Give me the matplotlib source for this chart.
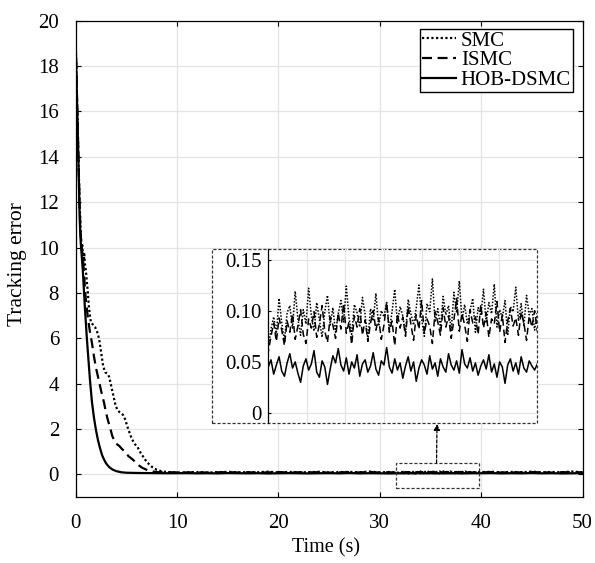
import numpy as np
import matplotlib
matplotlib.use("Agg")
import matplotlib.pyplot as plt
from matplotlib.patches import Rectangle

plt.rcParams['font.family'] = ['Liberation Serif', 'DejaVu Serif']
plt.rcParams['mathtext.fontset'] = 'stix'

# ---------------- data ----------------
series_names = ["SMC", "ISMC", "HOB-DSMC"]

# transient parts (time, value)
t_smc_tr = [0, 0.1, 0.2, 0.3, 0.4, 0.5, 0.55, 0.6, 0.65, 0.7, 0.75, 0.8, 0.85, 0.9, 1.0, 1.1, 1.2, 1.3,
            1.4, 1.5, 1.7, 1.9, 2.1, 2.3, 2.5, 2.7, 2.9, 3.1, 3.3, 3.5, 3.7, 3.9, 4.1, 4.3, 4.5,
            4.7, 4.9, 5.1, 5.3, 5.5, 5.8, 6.1, 6.4, 6.7, 7.0, 7.3, 7.6, 8.0, 8.5, 9.0, 9.5, 10.0]
y_smc_tr = [19.0, 17.2, 15.3, 13.4, 11.8, 10.6, 10.3, 9.9, 10.1, 9.6, 9.8, 9.4, 9.7, 9.3, 9.0, 8.5, 8.0, 7.4,
            7.0, 6.7, 6.6, 6.5, 6.3, 6.0, 5.4, 4.8, 4.5, 4.45, 4.3, 3.9, 3.5, 3.1, 2.85, 2.75, 2.7,
            2.6, 2.4, 2.1, 1.85, 1.6, 1.35, 1.2, 0.95, 0.75, 0.55, 0.42, 0.3, 0.2, 0.13, 0.1, 0.09, 0.08]

t_ismc_tr = [0, 0.1, 0.2, 0.3, 0.4, 0.5, 0.6, 0.7, 0.8, 0.9, 1.0, 1.2, 1.4, 1.6, 1.8, 2.0, 2.2, 2.4,
             2.6, 2.8, 3.0, 3.2, 3.4, 3.6, 3.8, 4.0, 4.3, 4.6, 4.9, 5.2, 5.5, 5.8, 6.2, 6.6, 7.0,
             7.5, 8.0, 9.0, 9.5, 10.0]
y_ismc_tr = [19.0, 17.1, 15.2, 13.3, 11.6, 10.5, 10.0, 9.6, 9.0, 8.3, 7.7, 6.9, 6.3, 5.8, 5.2, 4.7, 4.3, 3.9,
             3.5, 3.15, 2.7, 2.35, 2.05, 1.7, 1.5, 1.35, 1.25, 1.1, 1.0, 0.8, 0.7, 0.58, 0.4, 0.28, 0.2,
             0.13, 0.1, 0.09, 0.09, 0.085]

t_hob_tr = [0, 0.1, 0.2, 0.3, 0.4, 0.5, 0.6, 0.7, 0.8, 0.9, 1.0, 1.1, 1.2, 1.3, 1.4, 1.5, 1.6, 1.8,
            2.0, 2.2, 2.4, 2.6, 2.8, 3.0, 3.3, 3.6, 4.0, 4.5, 5.0, 6.0, 7.0, 8.0, 9.0, 10.0]
y_hob_tr = [19.0, 17.0, 15.0, 13.0, 11.2, 10.2, 9.6, 9.0, 8.2, 7.4, 6.7, 6.0, 5.4, 4.8, 4.2, 3.7, 3.2, 2.5,
            1.95, 1.5, 1.15, 0.85, 0.65, 0.48, 0.32, 0.22, 0.14, 0.09, 0.07, 0.06, 0.055, 0.05, 0.047, 0.05]

# steady-state, coarse (t = 11..31 and 40..50)
t_coarse_a = np.arange(11, 32, 1.0)
t_coarse_b = np.arange(40, 51, 1.0)
smc_coarse_a = [0.088, 0.101, 0.079, 0.095, 0.110, 0.086, 0.098, 0.092, 0.117, 0.083, 0.104,
                0.096, 0.089, 0.112, 0.081, 0.099, 0.107, 0.093, 0.121, 0.087, 0.102]
smc_coarse_b = [0.097, 0.114, 0.085, 0.105, 0.092, 0.119, 0.090, 0.101, 0.096, 0.123, 0.088]
ismc_coarse_a = [0.084, 0.092, 0.075, 0.089, 0.098, 0.081, 0.093, 0.070, 0.087, 0.101, 0.079,
                 0.090, 0.085, 0.096, 0.073, 0.088, 0.094, 0.082, 0.104, 0.077, 0.091]
ismc_coarse_b = [0.086, 0.099, 0.078, 0.093, 0.083, 0.097, 0.089, 0.076, 0.095, 0.087, 0.092]
hob_coarse_a = [0.052, 0.044, 0.049, 0.041, 0.055, 0.047, 0.043, 0.050, 0.038, 0.046, 0.053,
                0.045, 0.040, 0.048, 0.051, 0.044, 0.057, 0.042, 0.049, 0.046, 0.039]
hob_coarse_b = [0.047, 0.053, 0.041, 0.049, 0.044, 0.056, 0.043, 0.050, 0.038, 0.046, 0.052]

# steady-state, dense (zoomed window 32..39 s)
t_dense = 32 + np.arange(101) * 0.07
smc_dense = [0.065, 0.082, 0.094, 0.078, 0.112, 0.088, 0.071, 0.098, 0.105, 0.083,
             0.119, 0.092, 0.076, 0.101, 0.087, 0.122, 0.095, 0.080, 0.108, 0.091,
             0.074, 0.099, 0.115, 0.086, 0.103, 0.079, 0.097, 0.110, 0.089, 0.124,
             0.093, 0.077, 0.106, 0.098, 0.084, 0.113, 0.096, 0.072, 0.102, 0.090,
             0.117, 0.085, 0.100, 0.094, 0.108, 0.081, 0.099, 0.121, 0.088, 0.104,
             0.095, 0.078, 0.111, 0.097, 0.086, 0.103, 0.125, 0.092, 0.075, 0.107,
             0.099, 0.131, 0.089, 0.102, 0.083, 0.114, 0.096, 0.105, 0.080, 0.118,
             0.098, 0.129, 0.091, 0.106, 0.087, 0.100, 0.112, 0.079, 0.103, 0.095,
             0.121, 0.088, 0.108, 0.097, 0.126, 0.084, 0.101, 0.093, 0.110, 0.076,
             0.104, 0.099, 0.123, 0.090, 0.107, 0.085, 0.115, 0.096, 0.102, 0.081,
             0.098]
ismc_dense = [0.060, 0.075, 0.088, 0.070, 0.093, 0.081, 0.066, 0.090, 0.079, 0.097,
              0.072, 0.085, 0.101, 0.077, 0.068, 0.092, 0.083, 0.099, 0.074, 0.087,
              0.105, 0.080, 0.069, 0.094, 0.086, 0.073, 0.098, 0.082, 0.107, 0.078,
              0.089, 0.067, 0.095, 0.084, 0.102, 0.076, 0.091, 0.070, 0.088, 0.100,
              0.081, 0.093, 0.072, 0.086, 0.108, 0.079, 0.090, 0.066, 0.097, 0.083,
              0.094, 0.075, 0.104, 0.087, 0.071, 0.096, 0.082, 0.110, 0.078, 0.092,
              0.085, 0.068, 0.099, 0.089, 0.076, 0.103, 0.084, 0.095, 0.073, 0.091,
              0.112, 0.080, 0.097, 0.086, 0.070, 0.101, 0.088, 0.094, 0.077, 0.106,
              0.083, 0.098, 0.074, 0.092, 0.087, 0.109, 0.079, 0.096, 0.069, 0.090,
              0.102, 0.085, 0.093, 0.076, 0.099, 0.088, 0.071, 0.095, 0.084, 0.100,
              0.080]
hob_dense = [0.045, 0.052, 0.038, 0.047, 0.055, 0.041, 0.036, 0.049, 0.058, 0.044,
             0.050, 0.039, 0.030, 0.046, 0.053, 0.042, 0.048, 0.061, 0.040, 0.035,
             0.051, 0.045, 0.028, 0.043, 0.056, 0.049, 0.063, 0.047, 0.041, 0.054,
             0.038, 0.050, 0.044, 0.057, 0.036, 0.048, 0.052, 0.040, 0.046, 0.059,
             0.043, 0.037, 0.051, 0.047, 0.064, 0.045, 0.039, 0.053, 0.042, 0.049,
             0.034, 0.046, 0.055, 0.041, 0.050, 0.031, 0.044, 0.052, 0.047, 0.038,
             0.056, 0.043, 0.049, 0.036, 0.053, 0.045, 0.040, 0.058, 0.047, 0.042,
             0.051, 0.039, 0.062, 0.048, 0.044, 0.054, 0.041, 0.049, 0.037, 0.046,
             0.052, 0.043, 0.057, 0.040, 0.048, 0.035, 0.050, 0.045, 0.029, 0.047,
             0.053, 0.041, 0.049, 0.038, 0.055, 0.044, 0.040, 0.051, 0.046, 0.042,
             0.048]

x_ticks = [0, 10, 20, 30, 40, 50]
y_ticks = [0, 2, 4, 6, 8, 10, 12, 14, 16, 18, 20]
inset_y_ticks = [0, 0.05, 0.10, 0.15]
inset_y_labels = ["0", "0.05", "0.10", "0.15"]


def assemble(t_tr, y_tr, ya, yd, yb):
    t = np.concatenate([t_tr, t_coarse_a, t_dense, t_coarse_b])
    y = np.concatenate([y_tr, ya, yd, yb])
    return t, y


t_smc, y_smc = assemble(t_smc_tr, y_smc_tr, smc_coarse_a, smc_dense, smc_coarse_b)
t_ismc, y_ismc = assemble(t_ismc_tr, y_ismc_tr, ismc_coarse_a, ismc_dense, ismc_coarse_b)
t_hob, y_hob = assemble(t_hob_tr, y_hob_tr, hob_coarse_a, hob_dense, hob_coarse_b)

styles = {
    "SMC": dict(linestyle=(0, (1, 1.1))),
    "ISMC": dict(linestyle=(0, (4.5, 2.5))),
    "HOB-DSMC": dict(linestyle='-'),
}
data = {"SMC": (t_smc, y_smc), "ISMC": (t_ismc, y_ismc), "HOB-DSMC": (t_hob, y_hob)}

# ---------------- figure ----------------
W, H = 595, 563
fig = plt.figure(figsize=(W / 100, H / 100), dpi=100)
L, R, T, B = 75.7, 582.5, 20.7, 497.0
ax = fig.add_axes([L / W, 1 - B / H, (R - L) / W, (B - T) / H])

for name in series_names:
    t, y = data[name]
    ax.plot(t, y, color='black', lw=1.6, label=name, **styles[name])

ax.set_xlim(0, 50)
ax.set_ylim(-1, 20)
ax.set_xticks(x_ticks)
ax.set_yticks(y_ticks)
ax.grid(True, color='#e3e3e3', lw=0.9)
ax.set_axisbelow(True)
ax.tick_params(direction='in', length=3.6, width=0.8, top=True, right=True,
               labelsize=15, pad=12)
for s in ax.spines.values():
    s.set_linewidth(0.9)

ax.set_xlabel("Time (s)", fontsize=14.5, va='center')
ax.xaxis.set_label_coords(0.494, (B - 548) / (B - T))
ax.set_ylabel("Tracking error", fontsize=15.5, va='center')
ax.yaxis.set_label_coords((18 - L) / (R - L), 0.49)

leg = ax.legend(loc='upper right', bbox_to_anchor=((573 - L) / (R - L), 1 - (29 - T) / (B - T)),
                borderaxespad=0, fontsize=15, handlelength=1.6, handletextpad=0.25,
                borderpad=0.1, labelspacing=0.0, fancybox=False, framealpha=1,
                edgecolor='black')
leg.get_frame().set_linewidth(1.0)

# zoom rectangle in main axes
ax.add_patch(Rectangle((31.6, -0.6), 8.2, 1.1, fill=False, edgecolor='#333333',
                       lw=0.9, linestyle=(0, (2.5, 1.5)), zorder=5))

# outer dashed box of inset (figure pixels)
bx0, bx1, by0, by1 = 211.7, 537.3, 249.3, 423.3
fig.add_artist(Rectangle((bx0 / W, 1 - by1 / H), (bx1 - bx0) / W, (by1 - by0) / H,
                         transform=fig.transFigure, facecolor='white', edgecolor='#333333',
                         lw=0.9, linestyle=(0, (2.5, 1.5)), zorder=1))

# arrow from rectangle to inset
ax.annotate("", xy=(437 / W, 1 - 424 / H), xycoords='figure fraction',
            xytext=(35.6, 0.5), textcoords='data',
            arrowprops=dict(arrowstyle='-|>', color='black', lw=0.9, linestyle=(0, (2.5, 1.5)),
                            mutation_scale=9, shrinkA=0, shrinkB=0), zorder=6)

# inset axes
ix0 = 268.3
axin = fig.add_axes([ix0 / W, 1 - by1 / H, (bx1 - ix0) / W, (by1 - by0) / H], zorder=2)
axin.patch.set_visible(False)
for name in series_names:
    t, y = data[name]
    axin.plot(t, y, color='black', lw=1.1, **styles[name])
axin.set_xlim(32, 39)
axin.set_ylim(-0.01, 0.16)
axin.set_xticks([33, 34, 35, 36, 37, 38])
axin.set_xticklabels([])
axin.set_yticks(inset_y_ticks)
axin.set_yticklabels(inset_y_labels)
axin.grid(True, color='#e3e3e3', lw=0.9)
axin.set_axisbelow(True)
axin.tick_params(axis='y', direction='in', length=2.4, width=0.8, labelsize=15, pad=4.8)
axin.tick_params(axis='x', length=0)
for side in ['top', 'right', 'bottom']:
    axin.spines[side].set_visible(False)
axin.spines['left'].set_linewidth(0.9)

fig.savefig("out.png", dpi=100)
